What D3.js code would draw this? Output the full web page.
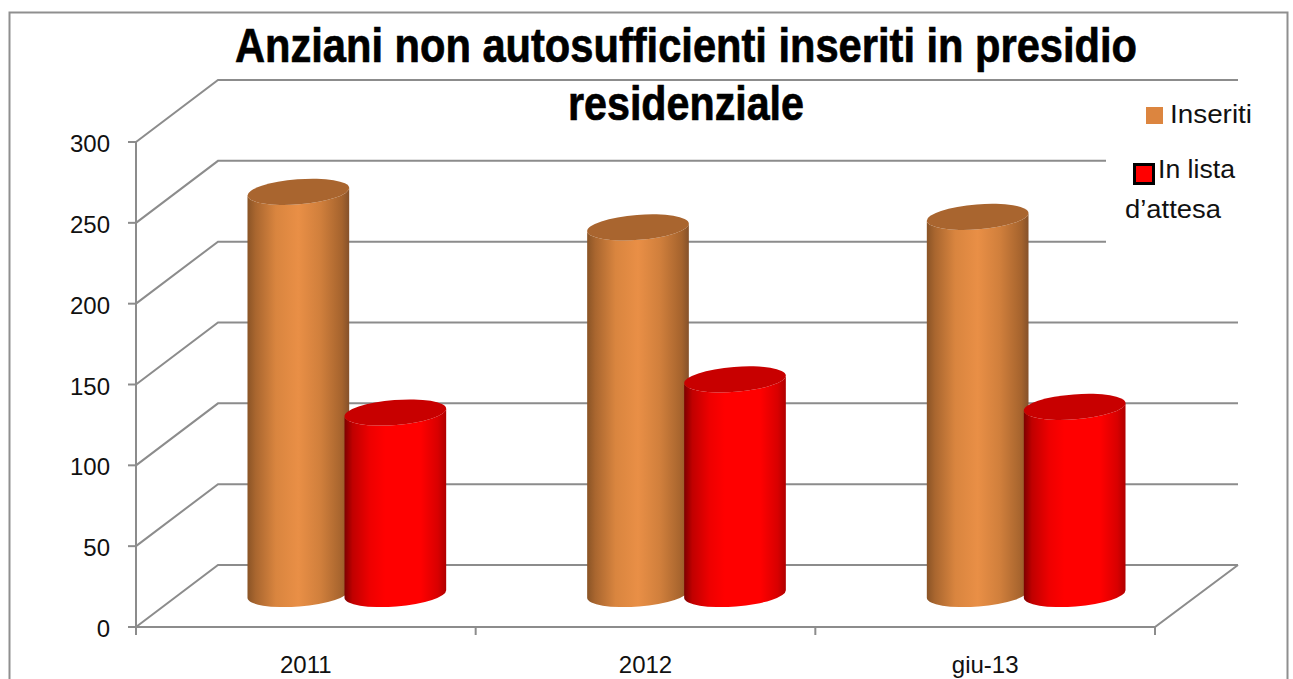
<!DOCTYPE html>
<html><head><meta charset="utf-8">
<script src="https://cdn.jsdelivr.net/npm/d3@7/dist/d3.min.js"></script>
<style>html,body{margin:0;padding:0;background:#fff;overflow:hidden}svg{display:block}</style>
</head><body><svg id="c" width="1293" height="679"></svg>
<script>
const categories = ["2011", "2012", "giu-13"];
const inseriti = [250, 228, 234.5];
const inLista = [113.5, 134, 117];
const yTicks = [0, 50, 100, 150, 200, 250, 300];
const titleLines = ["Anziani non autosufficienti inseriti in presidio", "residenziale"];
const titleWidths = [902, 236];

const svg = d3.select("#c");
const depthX = 82, depthY = -62, rx = 51, ry = 12.5, tilt = -4.5;
const y = d3.scaleLinear().domain([0, 300]).range([627, 142]);
const x = d3.scaleBand().domain(categories).range([136, 1155]);
const grey = "#8c8c8c";
const sans = "'Liberation Sans', Arial, sans-serif";

// frame
svg.append("path").attr("d", "M9.5,679V12.5H1287.5V679").attr("fill", "none").attr("stroke", "#8f8f8f").attr("stroke-width", 2);

// gradients
const defs = svg.append("defs");
function grad(id, stops) {
  const g = defs.append("linearGradient").attr("id", id);
  stops.forEach(s => g.append("stop").attr("offset", s[0]).attr("stop-color", s[1]));
}
grad("gOrange", [[0, "#8a5426"], [0.08, "#a9662f"], [0.28, "#d9853f"], [0.5, "#e98f46"], [0.72, "#d07f3c"], [0.93, "#a5632d"], [1, "#85512a"]]);
grad("gRed", [[0, "#7d0000"], [0.08, "#c00000"], [0.25, "#ee0000"], [0.4, "#ff0000"], [0.75, "#ff0000"], [0.92, "#d80000"], [1, "#b00000"]]);

// grid and walls
const grid = svg.append("g").attr("fill", "none").attr("stroke", grey).attr("stroke-width", 2);
yTicks.forEach(v => {
  const yy = y(v);
  grid.append("path").attr("d", `M${x.range()[0]},${yy}L${x.range()[0] + depthX},${yy + depthY}H${x.range()[1] + depthX + 1}`);
  grid.append("path").attr("d", `M${x.range()[0] - 8},${yy}H${x.range()[0]}`);
});
grid.append("path").attr("d", `M${x.range()[0]},${y(300)}V${y(0)}H${x.range()[1]}L${x.range()[1] + depthX + 1},${y(0) + depthY}`);
[0, 1, 2, 3].forEach(i => {
  const xx = x.range()[0] + i * x.step();
  grid.append("path").attr("d", `M${xx},${y(0)}v8`);
});

// legend cover over the back wall
svg.append("rect").attr("x", 1106).attr("y", 100).attr("width", 140).attr("height", 190).attr("fill", "#fff");

// cylinders
function cyl(cx, yTop, yBase, fill, topFill) {
  const a = tilt * Math.PI / 180, dx = rx * Math.cos(a), dy = rx * Math.sin(a);
  const arc = `${rx},${ry} ${tilt} 0 `;
  svg.append("path").attr("fill", `url(#${fill})`)
    .attr("d", `M${cx - dx},${yTop - dy}L${cx - dx},${yBase - dy}A${arc}0 ${cx + dx},${yBase + dy}L${cx + dx},${yTop + dy}A${arc}1 ${cx - dx},${yTop - dy}Z`);
  svg.append("ellipse").attr("rx", rx).attr("ry", ry).attr("fill", topFill)
    .attr("transform", `translate(${cx},${yTop}) rotate(${tilt})`);
}
categories.forEach((c, i) => {
  const mid = x(c) + x.bandwidth() / 2 + depthX / 2;
  const base = y(0) + depthY / 2 - 2;
  cyl(mid - 48.5, y(inseriti[i]) + depthY / 2, base, "gOrange", "#a9652f");
  cyl(mid + 48.5, y(inLista[i]) + depthY / 2, base, "gRed", "#c80000");
});

// y labels
svg.append("g").selectAll("text").data(yTicks).join("text")
  .attr("x", 110).attr("y", d => y(d) + 10).attr("text-anchor", "end")
  .attr("font-family", sans).attr("font-size", 24).attr("fill", "#111").text(d => d);
// x labels
svg.append("g").selectAll("text").data(categories).join("text")
  .attr("x", d => x(d) + x.bandwidth() / 2).attr("y", 673).attr("text-anchor", "middle")
  .attr("font-family", sans).attr("font-size", 24).attr("fill", "#111").text(d => d);

// title
svg.append("g").selectAll("text").data(titleLines).join("text")
  .attr("x", 686).attr("y", (d, i) => 62 + i * 58).attr("text-anchor", "middle")
  .attr("textLength", (d, i) => titleWidths[i]).attr("lengthAdjust", "spacingAndGlyphs")
  .attr("font-family", sans).attr("stroke", "#000").attr("stroke-width", 0.7)
  .attr("font-weight", "bold").attr("font-size", 48).attr("fill", "#000").text(d => d);

// legend
function legendText(tx, ty, w, s) {
  svg.append("text").attr("x", tx).attr("y", ty).attr("textLength", w).attr("lengthAdjust", "spacingAndGlyphs")
    .attr("font-family", sans).attr("font-size", 26).attr("fill", "#111").text(s);
}
svg.append("rect").attr("x", 1146).attr("y", 107).attr("width", 17).attr("height", 17).attr("fill", "#dc853f");
legendText(1170, 123, 82, "Inseriti");
svg.append("rect").attr("x", 1134.5).attr("y", 164.5).attr("width", 19).attr("height", 19).attr("fill", "#ff0000").attr("stroke", "#000").attr("stroke-width", 3);
legendText(1158, 178, 77, "In lista");
legendText(1125, 218, 96, "d’attesa");
</script></body></html>
